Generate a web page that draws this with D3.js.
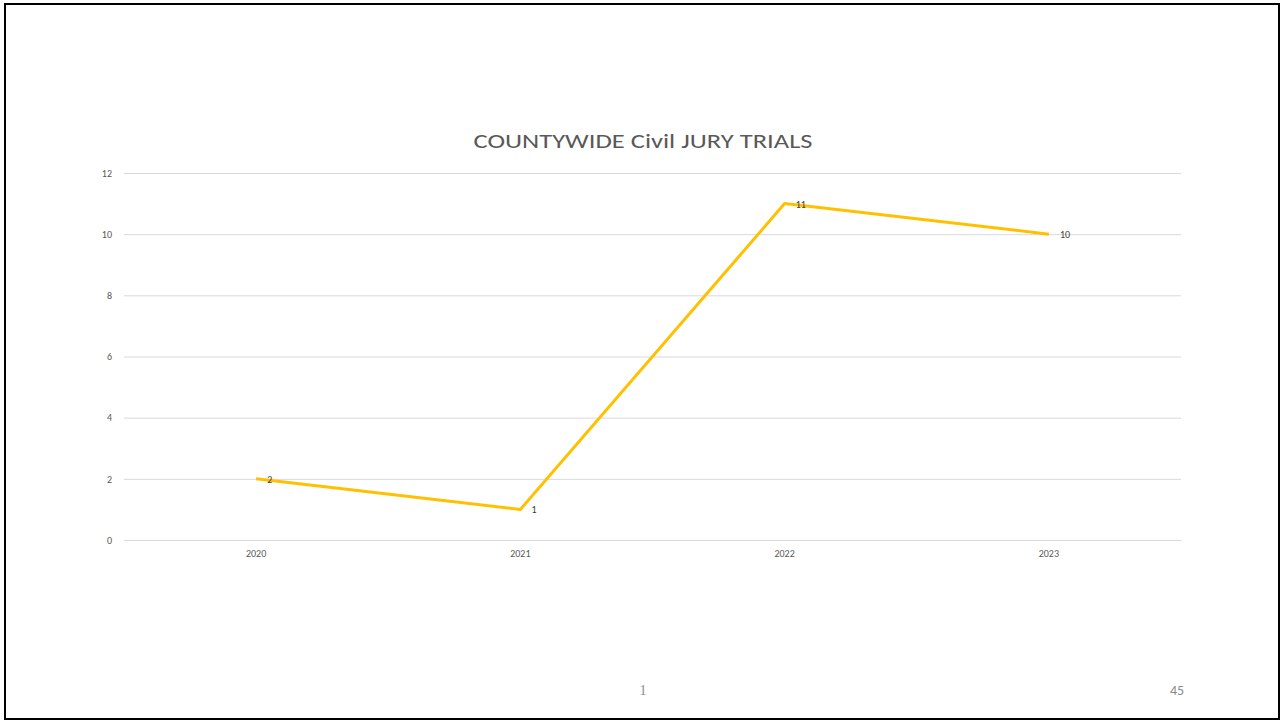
<!DOCTYPE html>
<html>
<head>
<meta charset="utf-8">
<script src="https://cdn.jsdelivr.net/npm/d3@7"></script>
<style>
html,body{margin:0;padding:0;background:#fff;overflow:hidden;}
svg{display:block;}
</style>
</head>
<body>
<script>
const categories = ["2020", "2021", "2022", "2023"];
const values = [2, 1, 11, 10];
const yTicks = [0, 2, 4, 6, 8, 10, 12];
const title = "COUNTYWIDE Civil JURY TRIALS";
const footerCenter = "1";
const footerRight = "45";

(function () {
const W = 1282, H = 721;
const svg = d3.select("body").append("svg").attr("width", W).attr("height", H);

svg.append("rect").attr("x", 5).attr("y", 4).attr("width", 1274).attr("height", 715)
  .attr("fill", "#fff").attr("stroke", "#000").attr("stroke-width", 2);

const font = "Carlito, Calibri, 'Open Sans', 'Liberation Sans', sans-serif";
const pLeft = 124, pRight = 1181, pTop = 173, pBottom = 540;

const x = d3.scaleBand().domain(categories).range([pLeft, pRight]);
const y = d3.scaleLinear().domain([0, 12]).range([pBottom, pTop]);

const yAxis = d3.axisLeft(y).tickValues(yTicks).tickSize(-(pRight - pLeft)).tickPadding(12);
const gy = svg.append("g").attr("transform", `translate(${pLeft},0)`).call(yAxis);
gy.select(".domain").remove();
gy.selectAll(".tick line").attr("stroke", "#d9d9d9").attr("stroke-width", 1);
gy.selectAll(".tick text").attr("fill", "#595959").attr("font-size", 10).attr("font-family", font);

const xAxis = d3.axisBottom(x).tickSize(0).tickPadding(10);
const gx = svg.append("g").attr("transform", `translate(0,${pBottom})`).call(xAxis);
gx.select(".domain").attr("stroke", "#d9d9d9");
gx.selectAll(".tick text").attr("fill", "#595959").attr("font-size", 10).attr("font-family", font);

const cx = d => x(d) + x.bandwidth() / 2;
const line = d3.line().x((d, i) => cx(categories[i])).y(d => y(d));
svg.append("path").datum(values).attr("d", line)
  .attr("fill", "none").attr("stroke", "#FFC000").attr("stroke-width", 3)
  .attr("stroke-linejoin", "round");

svg.selectAll(".lbl").data(values).enter().append("text")
  .attr("x", (d, i) => cx(categories[i]) + 11)
  .attr("y", d => y(d) + 4)
  .attr("fill", "#404040").attr("font-size", 10).attr("font-family", font)
  .text(d => d);

svg.append("text").attr("x", 643).attr("y", 148).attr("text-anchor", "middle")
  .attr("fill", "#595959").attr("font-size", 20).attr("font-family", font)
  .attr("textLength", 339).attr("lengthAdjust", "spacingAndGlyphs")
  .text(title);

svg.append("text").attr("x", 643).attr("y", 695).attr("text-anchor", "middle")
  .attr("fill", "#8c8c8c").attr("font-size", 14).attr("font-family", "'Liberation Serif', serif")
  .text(footerCenter);

svg.append("text").attr("x", 1177).attr("y", 695).attr("text-anchor", "middle")
  .attr("fill", "#8c8c8c").attr("font-size", 14).attr("font-family", font)
  .text(footerRight);
})();
</script>
</body>
</html>
